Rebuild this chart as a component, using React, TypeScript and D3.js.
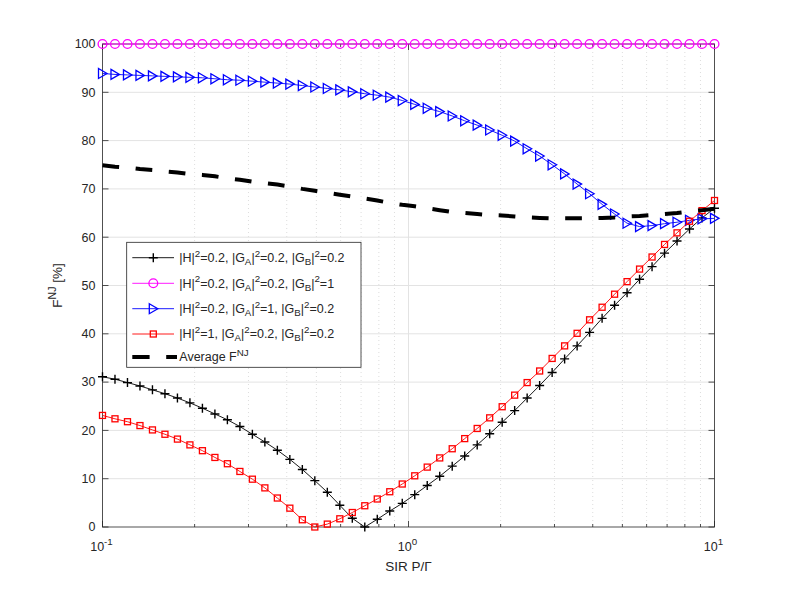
import * as d3 from "d3";
import { useEffect } from "react";

// SIR grid (log spaced, 50 points from 0.1 to 10)
const sir = [
  0.1, 0.10985, 0.12068, 0.13257, 0.14563, 0.15999, 0.17575, 0.19307, 0.2121, 0.233,
  0.25595, 0.28118, 0.30888, 0.33932, 0.37276, 0.40949, 0.44984, 0.49417, 0.54287, 0.59636,
  0.65513, 0.71969, 0.7906, 0.86851, 0.9541, 1.04811, 1.1514, 1.26486, 1.3895, 1.52642,
  1.67683, 1.84207, 2.02359, 2.223, 2.44205, 2.6827, 2.94705, 3.23746, 3.55648, 3.90694,
  4.29193, 4.71487, 5.17947, 5.68987, 6.25055, 6.86649, 7.54312, 8.28643, 9.10298, 10,
];

const fBlack = [
  31.1, 30.6, 29.9, 29.2, 28.4, 27.6, 26.7, 25.7, 24.6, 23.4,
  22.2, 20.8, 19.2, 17.6, 15.9, 14.0, 11.9, 9.6, 7.2, 4.5,
  1.8, 0, 1.6, 3.3, 4.9, 6.7, 8.6, 10.5, 12.6, 14.7,
  17.0, 19.3, 21.7, 24.1, 26.7, 29.3, 32.0, 34.8, 37.5, 40.3,
  43.2, 45.9, 48.5, 51.3, 53.9, 56.7, 59.2, 61.7, 64.0, 66.0,
];

const fMagenta = [
  100, 100, 100, 100, 100, 100, 100, 100, 100, 100,
  100, 100, 100, 100, 100, 100, 100, 100, 100, 100,
  100, 100, 100, 100, 100, 100, 100, 100, 100, 100,
  100, 100, 100, 100, 100, 100, 100, 100, 100, 100,
  100, 100, 100, 100, 100, 100, 100, 100, 100, 100,
];

const fBlue = [
  93.9, 93.7, 93.6, 93.5, 93.4, 93.3, 93.2, 93.1, 93.0, 92.8,
  92.6, 92.5, 92.3, 92.1, 91.9, 91.7, 91.4, 91.1, 90.8, 90.5,
  90.1, 89.7, 89.4, 89.0, 88.3, 87.5, 86.7, 86.0, 85.1, 84.1,
  83.2, 82.2, 81.1, 79.9, 78.3, 76.8, 75.0, 73.1, 71.0, 69.0,
  66.8, 64.8, 62.9, 62.2, 62.4, 62.8, 63.1, 63.5, 63.8, 63.9,
];

const fRed = [
  23.1, 22.4, 21.8, 21.0, 20.1, 19.2, 18.2, 17.0, 15.8, 14.4,
  13.1, 11.5, 9.9, 8.1, 6.0, 3.9, 1.5, 0, 0.6, 1.7,
  3.0, 4.4, 5.8, 7.3, 8.9, 10.6, 12.4, 14.3, 16.2, 18.3,
  20.4, 22.6, 24.9, 27.3, 29.9, 32.3, 34.9, 37.5, 40.1, 42.9,
  45.5, 48.2, 50.8, 53.4, 55.9, 58.5, 60.9, 63.3, 65.5, 67.6,
];

const fAverage = [
  74.9, 74.6, 74.4, 74.1, 73.9, 73.6, 73.4, 73.1, 72.9, 72.6,
  72.2, 71.9, 71.5, 71.2, 70.9, 70.5, 70.0, 69.6, 69.2, 68.8,
  68.4, 68.0, 67.6, 67.1, 66.7, 66.4, 66.0, 65.6, 65.2, 65.0,
  64.8, 64.6, 64.5, 64.3, 64.1, 64.0, 63.9, 63.9, 63.9, 63.9,
  64.0, 64.1, 64.3, 64.4, 64.6, 64.8, 65.0, 65.3, 65.6, 65.9,
];

const yTicks = [0, 10, 20, 30, 40, 50, 60, 70, 80, 90, 100];
const xDecades = [0.1, 1, 10];
const xDecadeExp = ["-1", "0", "1"];

type Seg = { t: string; sup?: boolean; sub?: boolean };

const legendLabels: Seg[][] = [
  [{ t: "|H|" }, { t: "2", sup: true }, { t: "=0.2, |G" }, { t: "A", sub: true }, { t: "|" }, { t: "2", sup: true }, { t: "=0.2, |G" }, { t: "B", sub: true }, { t: "|" }, { t: "2", sup: true }, { t: "=0.2" }],
  [{ t: "|H|" }, { t: "2", sup: true }, { t: "=0.2, |G" }, { t: "A", sub: true }, { t: "|" }, { t: "2", sup: true }, { t: "=0.2, |G" }, { t: "B", sub: true }, { t: "|" }, { t: "2", sup: true }, { t: "=1" }],
  [{ t: "|H|" }, { t: "2", sup: true }, { t: "=0.2, |G" }, { t: "A", sub: true }, { t: "|" }, { t: "2", sup: true }, { t: "=1, |G" }, { t: "B", sub: true }, { t: "|" }, { t: "2", sup: true }, { t: "=0.2" }],
  [{ t: "|H|" }, { t: "2", sup: true }, { t: "=1, |G" }, { t: "A", sub: true }, { t: "|" }, { t: "2", sup: true }, { t: "=0.2, |G" }, { t: "B", sub: true }, { t: "|" }, { t: "2", sup: true }, { t: "=0.2" }],
  [{ t: "Average F" }, { t: "NJ", sup: true }],
];

const W = 789;
const H = 592;
const margin = { left: 102.5, right: 714.5, top: 44, bottom: 527 };
const axisColor = "#262626";
const font = "'Liberation Sans', Arial, Helvetica, sans-serif";

type Marker = "plus" | "circle" | "tri" | "square" | "none";

const series: { values: number[]; color: string; marker: Marker }[] = [
  { values: fBlack, color: "#000000", marker: "plus" },
  { values: fMagenta, color: "#ff00ff", marker: "circle" },
  { values: fBlue, color: "#0000ff", marker: "tri" },
  { values: fRed, color: "#ff0000", marker: "square" },
];

function MarkerShape({ type, x, y, color }: { type: Marker; x: number; y: number; color: string }) {
  if (type === "plus")
    return <path d={`M${x - 4.5},${y}H${x + 4.5}M${x},${y - 4.5}V${y + 4.5}`} stroke={color} strokeWidth={1.4} fill="none" />;
  if (type === "circle") return <circle cx={x} cy={y} r={4.4} stroke={color} strokeWidth={1.3} fill="none" />;
  if (type === "tri")
    return <path d={`M${x - 4},${y - 5}L${x + 4.5},${y}L${x - 4},${y + 5}Z`} stroke={color} strokeWidth={1.3} fill="none" />;
  if (type === "square") return <rect x={x - 3} y={y - 3} width={6} height={6} stroke={color} strokeWidth={1.3} fill="none" />;
  return null;
}

function RichText({ segs, x, y, size, anchor }: { segs: Seg[]; x: number; y: number; size: number; anchor?: string }) {
  let offset = 0;
  const small = size * 0.78;
  return (
    <text x={x} y={y} fontSize={size} fontFamily={font} fill={axisColor} textAnchor={anchor ?? "start"}>
      {segs.map((s, i) => {
        const target = s.sup ? -size * 0.42 : s.sub ? size * 0.25 : 0;
        const dy = target - offset;
        offset = target;
        return (
          <tspan key={i} dy={dy} fontSize={s.sup || s.sub ? small : size}>
            {s.t}
          </tspan>
        );
      })}
    </text>
  );
}

export default function App() {
  useEffect(() => {
    document.body.style.margin = "0";
  }, []);

  const x = d3.scaleLog().domain([0.1, 10]).range([margin.left, margin.right]);
  const y = d3.scaleLinear().domain([0, 100]).range([margin.bottom, margin.top]);

  const line = d3
    .line<number>()
    .x((_, i) => x(sir[i]))
    .y(d => y(d));

  const minorTicks: number[] = [];
  [0.1, 1].forEach(dec => {
    for (let k = 2; k <= 9; k++) minorTicks.push(dec * k);
  });

  const legend = { x0: 126.7, y0: 242.3, x1: 361, y1: 367.3 };
  const rowY = [257.7, 283.3, 308.7, 334, 357];

  return (
    <svg width={W} height={H} style={{ position: "absolute", left: 0, top: 0, background: "#fff" }}>
      <rect x={0} y={0} width={W} height={H} fill="#fff" />
      <rect x={margin.left} y={margin.top} width={margin.right - margin.left} height={margin.bottom - margin.top} fill="#fff" />

      {/* minor x grid */}
      {minorTicks.map(t => (
        <line key={"mg" + t} x1={x(t)} x2={x(t)} y1={margin.top} y2={margin.bottom} stroke="#d4d4d4" strokeWidth={0.8} strokeDasharray="1 3" />
      ))}
      {/* major grid */}
      {xDecades.slice(1, 2).map(t => (
        <line key={"gx" + t} x1={x(t)} x2={x(t)} y1={margin.top} y2={margin.bottom} stroke="#e3e3e3" strokeWidth={1} />
      ))}
      {yTicks.slice(1, -1).map(t => (
        <line key={"gy" + t} x1={margin.left} x2={margin.right} y1={y(t)} y2={y(t)} stroke="#e3e3e3" strokeWidth={1} />
      ))}

      {/* axes box and ticks */}
      <rect x={margin.left} y={margin.top} width={margin.right - margin.left} height={margin.bottom - margin.top} fill="none" stroke={axisColor} strokeWidth={0.8} />
      {yTicks.map(t => (
        <g key={"ty" + t}>
          <line x1={margin.left} x2={margin.left + 6} y1={y(t)} y2={y(t)} stroke={axisColor} strokeWidth={0.8} />
          <line x1={margin.right} x2={margin.right - 6} y1={y(t)} y2={y(t)} stroke={axisColor} strokeWidth={0.8} />
          <text x={margin.left - 7} y={y(t) + 4.3} fontSize={12.5} fontFamily={font} fill={axisColor} textAnchor="end">
            {t}
          </text>
        </g>
      ))}
      {xDecades.map(t => (
        <g key={"tx" + t}>
          <line x1={x(t)} x2={x(t)} y1={margin.bottom} y2={margin.bottom - 6} stroke={axisColor} strokeWidth={0.8} />
          <line x1={x(t)} x2={x(t)} y1={margin.top} y2={margin.top + 6} stroke={axisColor} strokeWidth={0.8} />
        </g>
      ))}
      {minorTicks.map(t => (
        <g key={"mtx" + t}>
          <line x1={x(t)} x2={x(t)} y1={margin.bottom} y2={margin.bottom - 3} stroke={axisColor} strokeWidth={0.8} />
          <line x1={x(t)} x2={x(t)} y1={margin.top} y2={margin.top + 3} stroke={axisColor} strokeWidth={0.8} />
        </g>
      ))}
      {xDecades.map((t, i) => (
        <RichText key={"lx" + t} segs={[{ t: "10" }, { t: xDecadeExp[i], sup: true }]} x={x(t) - 1} y={550.5} size={12.5} anchor="middle" />
      ))}

      {/* axis labels */}
      <text x={x(1)} y={571} fontSize={13.5} fontFamily={font} fill={axisColor} textAnchor="middle">
        SIR P/Γ
      </text>
      <g transform={`translate(62,${(margin.top + margin.bottom) / 2}) rotate(-90)`}>
        <RichText segs={[{ t: "F" }, { t: "NJ", sup: true }, { t: " [%]" }]} x={0} y={0} size={13.5} anchor="middle" />
      </g>

      {/* series */}
      {series.map((s, si) => (
        <g key={"s" + si}>
          <path d={line(s.values) ?? ""} fill="none" stroke={s.color} strokeWidth={0.9} />
          {s.values.map((v, i) => (
            <MarkerShape key={i} type={s.marker} x={x(sir[i])} y={y(v)} color={s.color} />
          ))}
        </g>
      ))}
      <path d={line(fAverage) ?? ""} fill="none" stroke="#000" strokeWidth={4} strokeDasharray="16.7 16.6" />

      {/* legend */}
      <rect x={legend.x0} y={legend.y0} width={legend.x1 - legend.x0} height={legend.y1 - legend.y0} fill="#fff" stroke={axisColor} strokeWidth={0.8} />
      {series.map((s, i) => (
        <g key={"lg" + i}>
          <line x1={132.3} x2={174} y1={rowY[i]} y2={rowY[i]} stroke={s.color} strokeWidth={0.9} />
          <MarkerShape type={s.marker} x={153.3} y={rowY[i]} color={s.color} />
        </g>
      ))}
      <line x1={132.3} x2={177} y1={rowY[4]} y2={rowY[4]} stroke="#000" strokeWidth={4} strokeDasharray="17.3 16.6" />
      {legendLabels.map((segs, i) => (
        <RichText key={"lt" + i} segs={segs} x={179.3} y={rowY[i] + 4.3} size={12.5} />
      ))}
    </svg>
  );
}
